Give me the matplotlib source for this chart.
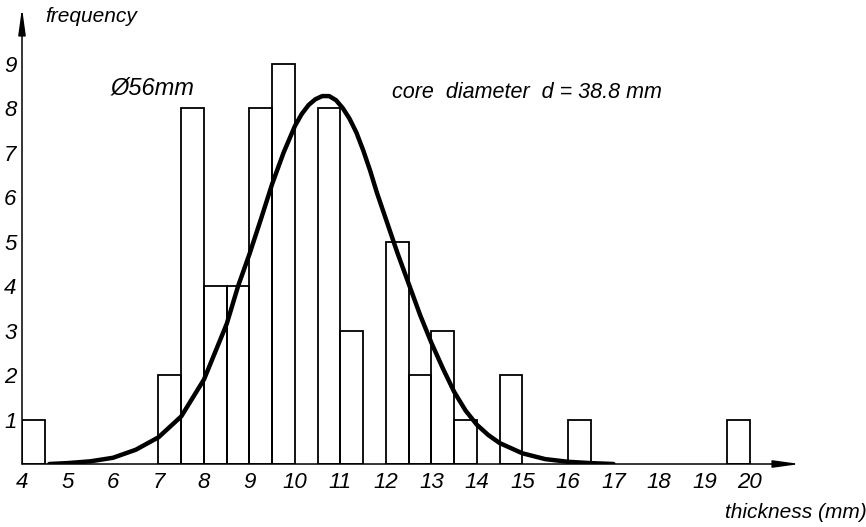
#!/usr/bin/env python3
"""
Thickness distribution of the core samples (56 mm core, d = 38.8 mm)
drawn as a histogram with the fitted frequency curve on top.
"""

import matplotlib
matplotlib.use("Agg")
import matplotlib.pyplot as plt

# Histogram bins (left edge, mm) and their counts, bin width 0.5 mm
bin_left = [4.0, 7.0, 7.5, 8.0, 8.5, 9.0, 9.5, 10.5, 11.0, 12.0, 12.5,
            13.0, 13.5, 14.5, 16.0, 19.5]
counts = [1, 2, 8, 4, 4, 8, 9, 8, 3, 5, 2, 3, 1, 2, 1, 1]

# Fitted curve
curve_x = [4.6, 5.0, 5.5, 6.0, 6.5, 7.0, 7.5, 8.0, 8.5, 8.75, 9.0, 9.25,
           9.5, 9.75, 10.0, 10.15, 10.3, 10.45, 10.6, 10.75, 10.9, 11.05,
           11.2, 11.35, 11.5, 11.65, 11.8, 12.0, 12.25, 12.5, 12.75, 13.0,
           13.25, 13.5, 13.75, 14.0, 14.25, 14.5, 15.0, 15.5, 16.0, 16.5,
           17.0]
curve_y = [0.0, 0.02, 0.06, 0.14, 0.32, 0.6, 1.07, 1.9, 3.15, 4.0, 4.72,
           5.5, 6.3, 7.0, 7.6, 7.87, 8.07, 8.2, 8.27, 8.27, 8.18, 8.0,
           7.76, 7.45, 7.05, 6.6, 6.1, 5.5, 4.75, 4.05, 3.35, 2.72,
           2.15, 1.62, 1.2, 0.88, 0.65, 0.47, 0.24, 0.11, 0.05, 0.02, 0.0]

x_ticks = list(range(4, 21))
y_ticks = list(range(1, 10))

FONT = "Liberation Sans"


def plot_distribution():
    fig = plt.figure(figsize=(8.66, 5.27), dpi=100)
    # axes box set in pixels so the scale matches the drawing
    ax = fig.add_axes([22 / 866, 63 / 527, 778 / 866, 456 / 527])
    ax.set_xlim(4, 21.1)
    ax.set_ylim(0, 10.25)

    ax.bar(bin_left, counts, width=0.5, align="edge", fill=False,
           edgecolor="black", linewidth=1.3, zorder=2)
    ax.plot(curve_x, curve_y, color="black", linewidth=3.2,
            solid_capstyle="round", solid_joinstyle="round", zorder=3)

    for s in ax.spines.values():
        s.set_visible(False)

    # axis lines with arrow heads
    arrow = dict(arrowstyle="-|>,head_length=1.6,head_width=0.22",
                 color="black", lw=1.1, shrinkA=0, shrinkB=0)
    ax.annotate("", xy=(1, 0), xytext=(0, 0), xycoords="axes fraction",
                arrowprops=arrow, annotation_clip=False)
    ax.annotate("", xy=(0, 1), xytext=(0, 0), xycoords="axes fraction",
                arrowprops=arrow, annotation_clip=False)

    ax.set_xticks(x_ticks)
    ax.set_yticks(y_ticks)
    ax.tick_params(length=0, labelsize=16)
    ax.tick_params(axis="x", pad=6)
    ax.tick_params(axis="y", pad=4)
    for lab in ax.get_xticklabels() + ax.get_yticklabels():
        lab.set_fontfamily(FONT)
        lab.set_fontstyle("italic")

    txt = dict(family=FONT, style="italic", color="black")
    fig.text(45 / 866, 1 - 17 / 527, "frequency", fontsize=15,
             va="center", ha="left", **txt)
    fig.text(725 / 866, 1 - 513 / 527, "thickness (mm)", fontsize=15,
             va="center", ha="left", **txt)
    fig.text(111 / 866, 1 - 88 / 527, "Ø56mm", fontsize=17,
             va="center", ha="left", **txt)
    fig.text(392 / 866, 1 - 93 / 527, "core  diameter  d = 38.8 mm",
             fontsize=15.5, va="center", ha="left", **txt)

    fig.savefig("out.png", dpi=100)


if __name__ == "__main__":
    plot_distribution()
